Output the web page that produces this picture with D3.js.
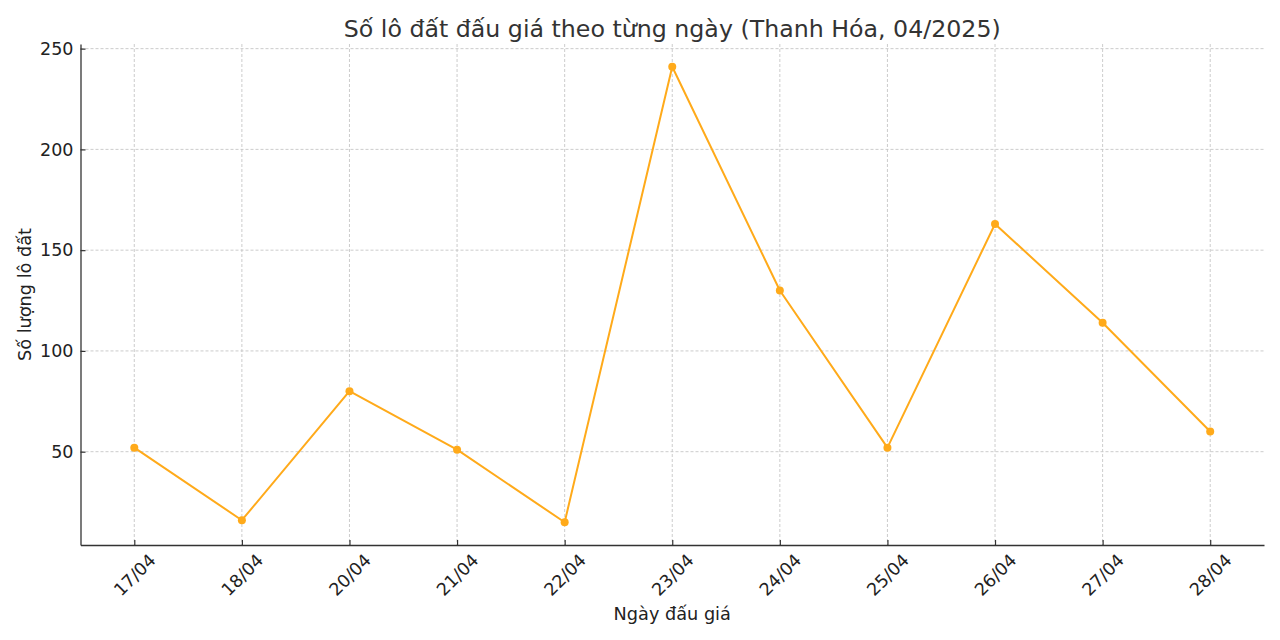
<!DOCTYPE html>
<html>
<head>
<meta charset="utf-8">
<script src="https://cdn.jsdelivr.net/npm/d3@7"></script>
<style>
  html, body { margin: 0; padding: 0; background: #fff; }
  svg { display: block; font-family: "DejaVu Sans", sans-serif; }
</style>
</head>
<body>
<svg id="chart" width="1280" height="640"></svg>
<script>
const categories = ["17/04","18/04","20/04","21/04","22/04","23/04","24/04","25/04","26/04","27/04","28/04"];
const values = [52, 16, 80, 51, 15, 241, 130, 52, 163, 114, 60];
const yTicks = [50, 100, 150, 200, 250];
const titleText = "Số lô đất đấu giá theo từng ngày (Thanh Hóa, 04/2025)";
const xLabelText = "Ngày đấu giá";
const yLabelText = "Số lượng lô đất";

(function () {
const svg = d3.select("#chart");
const mLeft = 80.5, mRight = 1264, mTop = 44, mBottom = 545;

const x = d3.scalePoint().domain(categories).range([mLeft, mRight]).padding(0.5);
const vMin = d3.min(values), vMax = d3.max(values);
const pad = (vMax - vMin) * 0.05;
const y = d3.scaleLinear().domain([vMin - pad, vMax + pad]).range([mBottom, mTop]);

// gridlines
const grid = svg.append("g");
grid.selectAll("line.h").data(yTicks).join("line")
  .attr("x1", mLeft).attr("x2", mRight)
  .attr("y1", d => y(d)).attr("y2", d => y(d))
  .attr("stroke", "#c6c6c6").attr("stroke-width", 0.9).attr("stroke-dasharray", "3,2");
grid.selectAll("line.v").data(categories).join("line")
  .attr("x1", d => x(d)).attr("x2", d => x(d))
  .attr("y1", mTop).attr("y2", mBottom)
  .attr("stroke", "#c6c6c6").attr("stroke-width", 0.9).attr("stroke-dasharray", "3,2");

// axes
const yAxis = d3.axisLeft(y).tickValues(yTicks).tickSizeInner(-5).tickSizeOuter(0).tickPadding(7);
const gy = svg.append("g").attr("transform", `translate(${mLeft},0)`).call(yAxis);
gy.select(".domain").attr("stroke", "#333").attr("stroke-width", 1.3);
gy.selectAll(".tick line").attr("stroke", "#333").attr("stroke-width", 1.2);
gy.selectAll(".tick text").attr("font-size", 17.5).attr("fill", "#222")
  .attr("font-family", "DejaVu Sans").attr("x", -7);

const xAxis = d3.axisBottom(x).tickSizeInner(-5).tickSizeOuter(0).tickPadding(0);
const gx = svg.append("g").attr("transform", `translate(0,${mBottom})`).call(xAxis);
gx.select(".domain").attr("stroke", "#333").attr("stroke-width", 1.3);
gx.selectAll(".tick line").attr("stroke", "#333").attr("stroke-width", 1.2);
gx.selectAll(".tick text")
  .attr("font-size", 17.5).attr("fill", "#222").attr("font-family", "DejaVu Sans")
  .attr("text-anchor", "middle").attr("dominant-baseline", "central")
  .attr("y", 0).attr("dy", null)
  .attr("transform", "translate(0,30) rotate(-45)");

// line
const line = d3.line().x((d, i) => x(categories[i])).y(d => y(d));
svg.append("path").datum(values)
  .attr("d", line).attr("fill", "none")
  .attr("stroke", "#ffaa1a").attr("stroke-width", 2).attr("stroke-linejoin", "round");
svg.selectAll("circle.pt").data(values).join("circle")
  .attr("cx", (d, i) => x(categories[i])).attr("cy", d => y(d))
  .attr("r", 4).attr("fill", "#ffaa1a");

// title and labels
const cx = (mLeft + mRight) / 2;
svg.append("text").text(titleText)
  .attr("x", cx).attr("y", 36.5).attr("text-anchor", "middle")
  .attr("font-size", 23.7).attr("fill", "#333");
svg.append("text").text(xLabelText)
  .attr("x", cx).attr("y", 620).attr("text-anchor", "middle")
  .attr("font-size", 17.7).attr("fill", "#222");
svg.append("text").text(yLabelText)
  .attr("transform", `translate(31,${(mTop + mBottom) / 2}) rotate(-90)`)
  .attr("text-anchor", "middle")
  .attr("font-size", 17.7).attr("fill", "#222");
})();
</script>
</body>
</html>
